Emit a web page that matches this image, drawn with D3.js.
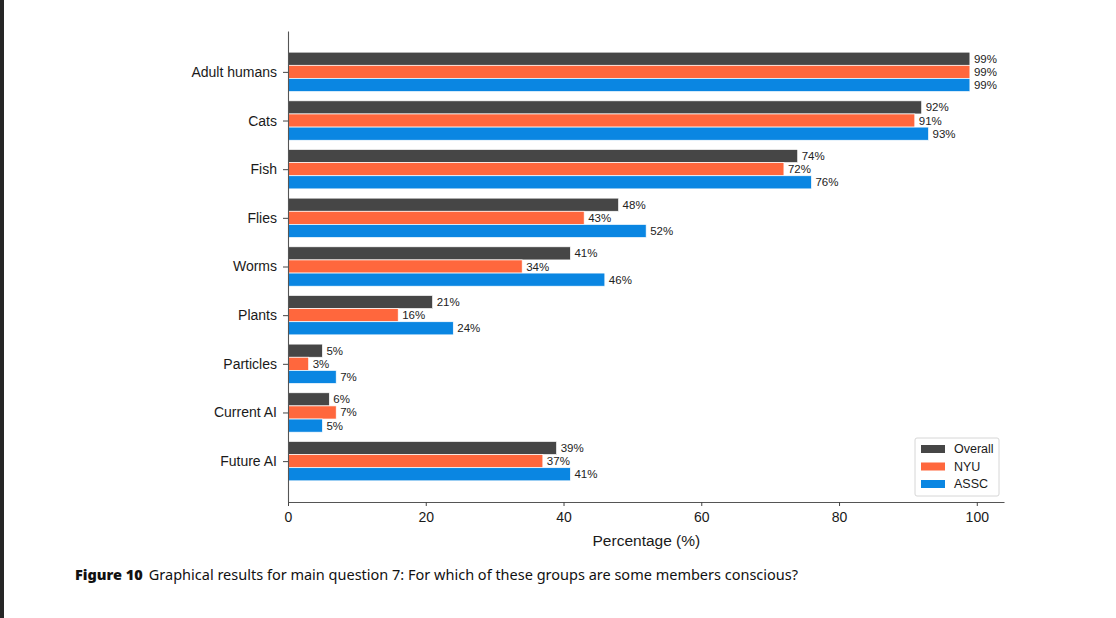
<!DOCTYPE html>
<html>
<head>
<meta charset="utf-8">
<script src="https://cdn.jsdelivr.net/npm/d3@7"></script>
<style>
  html, body { margin: 0; padding: 0; background: #fff; }
  svg { display: block; }
</style>
</head>
<body>
<div id="chart"></div>
<script>
// Groups (top to bottom) and responses per sample, in percent
const categories = ['Adult humans', 'Cats', 'Fish', 'Flies', 'Worms', 'Plants', 'Particles', 'Current AI', 'Future AI'];
const overall = [99, 92, 74, 48, 41, 21, 5, 6, 39];
const nyu     = [99, 91, 72, 43, 34, 16, 3, 7, 37];
const assc    = [99, 93, 76, 52, 46, 24, 7, 5, 41];
const seriesNames = ['Overall', 'NYU', 'ASSC'];
const xTicks = [0, 20, 40, 60, 80, 100];

const W = 1116, H = 618;
const colors = { Overall: '#464646', NYU: '#ff673d', ASSC: '#0a86e2' };
const series = [
  { name: 'Overall', values: overall },
  { name: 'NYU', values: nyu },
  { name: 'ASSC', values: assc }
];
const font = 'Liberation Sans, Arial, sans-serif';

const svg = d3.select('#chart').append('svg')
  .attr('width', W)
  .attr('height', H);

// dark strip on the left edge of the page
svg.append('rect').attr('x', 0).attr('y', 0).attr('width', 4).attr('height', H).attr('fill', '#262626');

const plot = { left: 288, right: 1004, top: 31, bottom: 502 };

// x: matplotlib-like 5% margin on the max
const x = d3.scaleLinear()
  .domain([0, 99 * 1.05])
  .range([plot.left, plot.right]);

// y: category index with 0.84 padding each side (bars span +-0.4)
const y = d3.scaleLinear()
  .domain([-0.84, categories.length - 1 + 0.84])
  .range([plot.top, plot.bottom]);

const barH = 0.27;
const unit = y(1) - y(0);

const g = svg.append('g');

series.forEach((s, si) => {
  const offset = (si - 1) * barH;
  g.selectAll('.bar-' + s.name)
    .data(s.values)
    .join('rect')
    .attr('x', x(0))
    .attr('y', (d, i) => y(i + offset - barH / 2))
    .attr('width', d => x(d) - x(0))
    .attr('height', barH * unit)
    .attr('fill', colors[s.name])
    .attr('stroke', '#ffffff')
    .attr('stroke-width', 0.7);

  g.selectAll('.lab-' + s.name)
    .data(s.values)
    .join('text')
    .attr('x', d => x(d) + 4)
    .attr('y', (d, i) => y(i + offset))
    .attr('dy', '0.35em')
    .attr('font-family', font)
    .attr('font-size', '11.5px')
    .attr('fill', '#222')
    .text(d => d + '%');
});

// axes
const xAxis = svg.append('g')
  .attr('transform', `translate(0,${plot.bottom})`)
  .call(d3.axisBottom(x).tickValues(xTicks).tickSize(4).tickPadding(6).tickSizeOuter(0));

const yAxis = svg.append('g')
  .attr('transform', `translate(${plot.left},0)`)
  .call(d3.axisLeft(y).tickValues(d3.range(categories.length)).tickFormat(i => categories[i])
    .tickSize(5).tickPadding(6).tickSizeOuter(0));

[xAxis, yAxis].forEach(ax => {
  ax.select('.domain').attr('stroke', '#555').attr('stroke-width', 1.1);
  ax.selectAll('.tick line').attr('stroke', '#444');
  ax.selectAll('.tick text')
    .attr('font-family', font)
    .attr('font-size', '14px')
    .attr('fill', '#1a1a1a');
});

svg.append('text')
  .attr('x', (plot.left + x(100)) / 2 + 14)
  .attr('y', 546)
  .attr('text-anchor', 'middle')
  .attr('font-family', font)
  .attr('font-size', '15.5px')
  .attr('fill', '#1a1a1a')
  .text('Percentage (%)');

// legend
const legend = svg.append('g').attr('transform', 'translate(915,438)');
legend.append('rect')
  .attr('width', 84).attr('height', 58).attr('rx', 2)
  .attr('fill', '#fff').attr('stroke', '#d6d6d6');
seriesNames.forEach((name, i) => {
  const row = legend.append('g').attr('transform', `translate(0,${11 + i * 17.5})`);
  row.append('rect').attr('x', 6).attr('y', -4).attr('width', 24).attr('height', 8).attr('fill', colors[name]);
  row.append('text')
    .attr('x', 39).attr('y', 0).attr('dy', '0.35em')
    .attr('font-family', font)
    .attr('font-size', '12.5px')
    .attr('fill', '#1a1a1a')
    .text(name);
});

// caption
const cap = svg.append('text')
  .attr('x', 75).attr('y', 580)
  .attr('font-family', 'Noto Sans, Open Sans, sans-serif')
  .attr('font-size', '14.5px')
  .attr('fill', '#111');
cap.append('tspan').attr('font-weight', 900).text('Figure 10');
cap.append('tspan').attr('dx', 6).text('Graphical results for main question 7: For which of these groups are some members conscious?');
</script>
</body>
</html>
